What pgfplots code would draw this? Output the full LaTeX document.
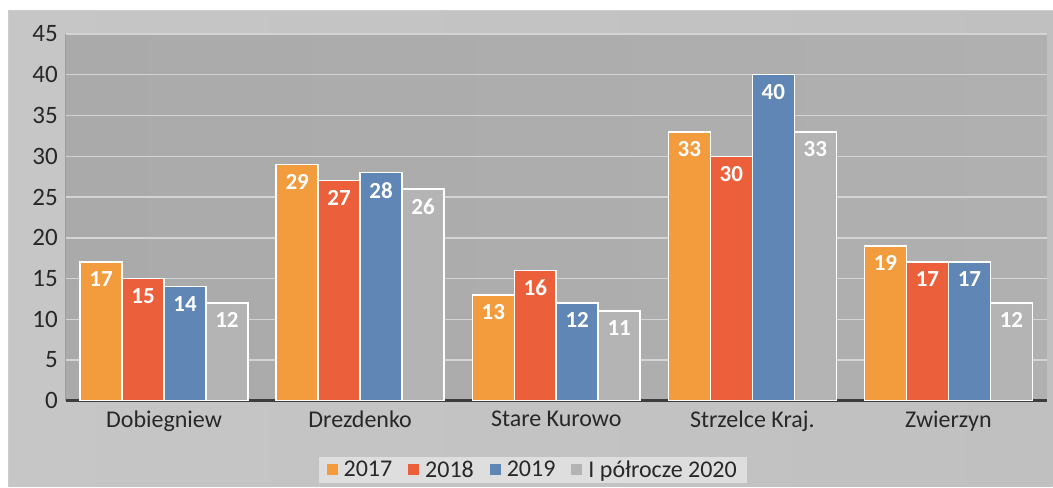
\documentclass[border=0pt]{standalone}
\usepackage{pgfplots}
\pgfplotsset{compat=1.18}
\usepackage{fontspec}
\setmainfont{Carlito}
\definecolor{c17}{RGB}{243,156,62}
\definecolor{c18}{RGB}{236,95,59}
\definecolor{c19}{RGB}{95,134,180}
\definecolor{c20}{RGB}{180,180,180}
\definecolor{txt}{RGB}{40,40,40}
\definecolor{bgL}{RGB}{198,198,198}
\definecolor{bgM}{RGB}{242,242,242}
\definecolor{bgR}{RGB}{192,192,192}
\definecolor{paL}{RGB}{170,170,170}
\definecolor{paM}{RGB}{216,216,216}
\definecolor{paR}{RGB}{176,176,176}
\definecolor{grid}{RGB}{212,212,212}
\definecolor{xline}{RGB}{60,60,60}
\pgfplotstableread{
x v17 v18 v19 v20
0 17 15 14 12
1 29 27 28 26
2 13 16 12 11
3 33 30 40 33
4 19 17 17 12
}\data
\begin{document}
\begin{tikzpicture}[x=1pt,y=1pt]
\path[fill=white] (0,0) rectangle (1053,487);
\shade[left color=bgL, middle color=bgM, right color=bgR] (9,0) rectangle (1053,476);
\draw[gray!40, line width=1pt] (9,0) -- (9,476) -- (1053,476);
\begin{axis}[
  at={(66pt,86pt)}, anchor=south west,
  width=981pt, height=367pt, scale only axis,
  xmin=-0.5, xmax=4.5, ymin=0, ymax=45,
  ytick={0,5,...,45},
  xtick={0,1,2,3,4},
  xticklabels={Dobiegniew, Drezdenko, Stare Kurowo, Strzelce Kraj., Zwierzyn},
  major tick length=0pt,
  axis x line*=bottom, axis y line*=left,
  x axis line style={-, draw=xline, line width=3pt},
  y axis line style={-, draw=gray!75, line width=1pt},
  ymajorgrids, grid style={draw=grid, line width=1.5pt},
  axis background/.style={left color=paL, middle color=paM, right color=paR},
  ybar=0pt, bar width=42pt,
  /pgf/number format/assume math mode=true,
  yticklabel style={font=\fontsize{25}{28}\selectfont, text=txt, inner sep=0pt, xshift=-8pt},
  xticklabel style={font=\fontsize{24}{28}\selectfont, text=txt, inner sep=0pt, anchor=north, yshift=-10pt},
  nodes near coords,
  every node near coord/.append style={font=\fontsize{23}{26}\selectfont\bfseries, text=white, anchor=north, inner sep=0pt, yshift=-9pt},
  legend style={at={(0.476,-0.188)}, anchor=center, legend columns=4, draw=none, fill={rgb,255:red,222;green,222;blue,222},
    font=\fontsize{24}{28}\selectfont, text=txt, inner xsep=8pt, inner ysep=2pt,
    /tikz/every odd column/.append style={column sep=4pt},
    /tikz/every even column/.append style={column sep=14pt}},
  legend image code/.code={\fill[#1, draw=none] (0pt,-5pt) rectangle (11pt,6pt);},
]
\addplot[fill=c17, draw=white, line width=1.5pt] table[x=x, y=v17] {\data};
\addplot[fill=c18, draw=white, line width=1.5pt] table[x=x, y=v18] {\data};
\addplot[fill=c19, draw=white, line width=1.5pt] table[x=x, y=v19] {\data};
\addplot[fill=c20, draw=white, line width=1.5pt] table[x=x, y=v20] {\data};
\legend{2017, 2018, 2019, I półrocze 2020}
\end{axis}
\end{tikzpicture}
\end{document}
